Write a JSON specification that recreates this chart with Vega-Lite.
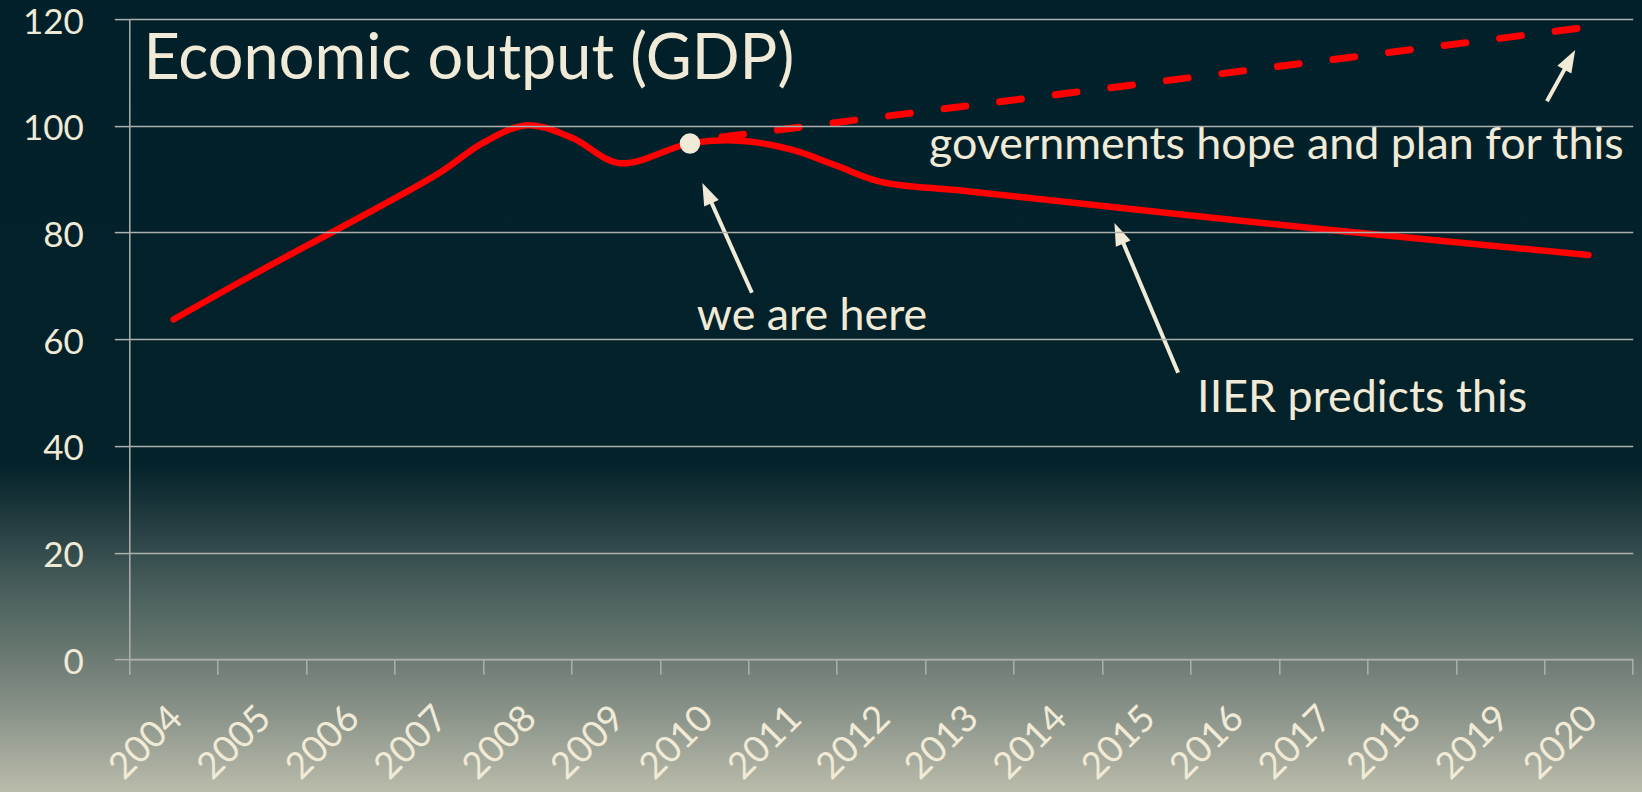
{
  "$schema": "https://vega.github.io/schema/vega-lite/v6.json",
  "width": 1503.4,
  "height": 640.2,
  "autosize": {"type": "none"},
  "padding": {"left": 129.3, "top": 19.1, "right": 9.3, "bottom": 132.7},
  "background": "#02202a",
  "config": {"view": {"stroke": null}, "font": "Lato"},
  "datasets": {
    "gdp": [
      {"year": 2004.0, "gdp": 63.7},
      {"year": 2005.0, "gdp": 73.0},
      {"year": 2006.0, "gdp": 81.9},
      {"year": 2007.0, "gdp": 91.1},
      {"year": 2007.5, "gdp": 96.8},
      {"year": 2008.0, "gdp": 100.1},
      {"year": 2008.5, "gdp": 97.8},
      {"year": 2009.05, "gdp": 93.0},
      {"year": 2009.84, "gdp": 96.7},
      {"year": 2010.4, "gdp": 97.2},
      {"year": 2011.0, "gdp": 95.5},
      {"year": 2011.5, "gdp": 92.5},
      {"year": 2012.0, "gdp": 89.5},
      {"year": 2013.0, "gdp": 87.7},
      {"year": 2017.0, "gdp": 80.6},
      {"year": 2020.0, "gdp": 75.8}
    ],
    "hope": [
      {"year": 2010.2, "gdp": 97.9},
      {"year": 2020.0, "gdp": 118.5}
    ],
    "now": [
      {"year": 2009.84, "gdp": 96.7}
    ],
    "notes": [
      {"text": "we are here", "x": 2011.22, "y": 61.7},
      {"text": "IIER predicts this", "x": 2017.44, "y": 46.4},
      {"text": "governments hope and plan for this", "x": 2016.47, "y": 93.7}
    ],
    "arrows": [
      {"id": "here", "x": 2010.54, "y": 68.7, "bx": 2010.075, "by": 85.9, "tx": 2009.98, "ty": 89.3},
      {"id": "iier", "x": 2015.36, "y": 53.7, "bx": 2014.73, "by": 78.4, "tx": 2014.64, "ty": 81.8},
      {"id": "gov", "x": 2019.53, "y": 104.6, "bx": 2019.74, "by": 110.9, "tx": 2019.85, "ty": 114.2}
    ]
  },
  "layer": [
    {
      "data": {"values": [{}]},
      "mark": {
        "type": "rect",
        "clip": false,
        "fill": {
          "gradient": "linear",
          "x1": 0, "y1": 0, "x2": 0, "y2": 1,
          "stops": [
            {"offset": 0, "color": "#02202a"},
            {"offset": 0.585, "color": "#03222a"},
            {"offset": 0.647, "color": "#1e383c"},
            {"offset": 0.731, "color": "#445a59"},
            {"offset": 0.815, "color": "#66766f"},
            {"offset": 0.897, "color": "#8a9389"},
            {"offset": 1, "color": "#bcbdac"}
          ]
        }
      },
      "encoding": {
        "x": {"datum": 2002.0, "type": "quantitative", "title": null, "scale": {"domain": [2003.5, 2020.5], "nice": false, "zero": false}},
        "x2": {"datum": 2020.8},
        "y": {"datum": -25.5, "type": "quantitative", "title": null, "scale": {"domain": [0, 120], "nice": false, "zero": false}},
        "y2": {"datum": 124.5}
      }
    },
    {
      "data": {"name": "gdp"},
      "mark": {"type": "line", "color": "#ff0000", "strokeWidth": 6.5, "interpolate": "catmull-rom", "strokeCap": "round", "strokeJoin": "round"},
      "encoding": {
        "x": {
          "field": "year", "type": "quantitative", "title": null,
          "scale": {"domain": [2003.5, 2020.5], "nice": false, "zero": false},
          "axis": {
            "title": null,
            "values": [2003.5, 2004.5, 2005.5, 2006.5, 2007.5, 2008.5, 2009.5, 2010.5, 2011.5, 2012.5, 2013.5, 2014.5, 2015.5, 2016.5, 2017.5, 2018.5, 2019.5, 2020.5],
            "labelExpr": "datum.value < 2020 ? '' + (datum.value + 0.5) : ''",
            "grid": false,
            "labelAngle": -45,
            "labelAlign": "right",
            "labelBaseline": "middle",
            "labelOffset": 47,
            "labelPadding": 38,
            "labelFont": "Lato",
            "labelFontSize": 37,
            "labelColor": "#f0ead6",
            "labelOverlap": false,
            "labelFlush": false,
            "labelBound": false,
            "tickSize": 15,
            "tickColor": "#aeb0ad",
            "tickWidth": 1.5,
            "domainColor": "#aeb0ad",
            "domainWidth": 1.5,
            "zindex": 1
          }
        },
        "y": {
          "field": "gdp", "type": "quantitative", "title": null,
          "scale": {"domain": [0, 120], "nice": false, "zero": false},
          "axis": {
            "title": null,
            "values": [0, 20, 40, 60, 80, 100, 120],
            "grid": true,
            "gridColor": "#aeb0ad",
            "gridWidth": 1.5,
            "labelFont": "Lato",
            "labelFontSize": 35,
            "labelColor": "#f0ead6",
            "labelPadding": 31,
            "labelOffset": 3,
            "tickSize": 15,
            "tickColor": "#aeb0ad",
            "tickWidth": 1.5,
            "domainColor": "#aeb0ad",
            "domainWidth": 1.5,
            "zindex": 1
          }
        }
      }
    },
    {
      "data": {"name": "hope"},
      "mark": {"type": "line", "color": "#ff0000", "strokeWidth": 7, "strokeDash": [22, 34], "strokeCap": "round"},
      "encoding": {
        "x": {"field": "year", "type": "quantitative", "title": null, "scale": {"domain": [2003.5, 2020.5], "nice": false, "zero": false}},
        "y": {"field": "gdp", "type": "quantitative", "title": null, "scale": {"domain": [0, 120], "nice": false, "zero": false}}
      }
    },
    {
      "data": {"name": "now"},
      "mark": {"type": "point", "filled": true, "color": "#f0ead6", "size": 420, "opacity": 1},
      "encoding": {
        "x": {"field": "year", "type": "quantitative", "title": null, "scale": {"domain": [2003.5, 2020.5], "nice": false, "zero": false}},
        "y": {"field": "gdp", "type": "quantitative", "title": null, "scale": {"domain": [0, 120], "nice": false, "zero": false}}
      }
    },
    {
      "data": {"name": "arrows"},
      "mark": {"type": "rule", "color": "#f0ead6", "strokeWidth": 4},
      "encoding": {
        "x": {"field": "x", "type": "quantitative", "title": null, "scale": {"domain": [2003.5, 2020.5], "nice": false, "zero": false}},
        "y": {"field": "y", "type": "quantitative", "title": null, "scale": {"domain": [0, 120], "nice": false, "zero": false}},
        "x2": {"field": "bx"},
        "y2": {"field": "by"}
      }
    },
    {
      "data": {"name": "arrows"},
      "transform": [{"filter": "datum.id == 'here'"}],
      "mark": {"type": "point", "shape": "M0,0L-0.5,1.4L0.5,1.4Z", "filled": true, "color": "#f0ead6", "size": 1024, "opacity": 1, "angle": 336},
      "encoding": {
        "x": {"field": "tx", "type": "quantitative", "title": null, "scale": {"domain": [2003.5, 2020.5], "nice": false, "zero": false}},
        "y": {"field": "ty", "type": "quantitative", "title": null, "scale": {"domain": [0, 120], "nice": false, "zero": false}}
      }
    },
    {
      "data": {"name": "arrows"},
      "transform": [{"filter": "datum.id == 'iier'"}],
      "mark": {"type": "point", "shape": "M0,0L-0.5,1.4L0.5,1.4Z", "filled": true, "color": "#f0ead6", "size": 1024, "opacity": 1, "angle": 337},
      "encoding": {
        "x": {"field": "tx", "type": "quantitative", "title": null, "scale": {"domain": [2003.5, 2020.5], "nice": false, "zero": false}},
        "y": {"field": "ty", "type": "quantitative", "title": null, "scale": {"domain": [0, 120], "nice": false, "zero": false}}
      }
    },
    {
      "data": {"name": "arrows"},
      "transform": [{"filter": "datum.id == 'gov'"}],
      "mark": {"type": "point", "shape": "M0,0L-0.5,1.4L0.5,1.4Z", "filled": true, "color": "#f0ead6", "size": 1024, "opacity": 1, "angle": 29},
      "encoding": {
        "x": {"field": "tx", "type": "quantitative", "title": null, "scale": {"domain": [2003.5, 2020.5], "nice": false, "zero": false}},
        "y": {"field": "ty", "type": "quantitative", "title": null, "scale": {"domain": [0, 120], "nice": false, "zero": false}}
      }
    },
    {
      "data": {"name": "notes"},
      "mark": {"type": "text", "font": "Lato", "fontSize": 44.8, "color": "#f0ead6", "align": "center", "baseline": "alphabetic"},
      "encoding": {
        "x": {"field": "x", "type": "quantitative", "title": null, "scale": {"domain": [2003.5, 2020.5], "nice": false, "zero": false}},
        "y": {"field": "y", "type": "quantitative", "title": null, "scale": {"domain": [0, 120], "nice": false, "zero": false}},
        "text": {"field": "text"}
      }
    },
    {
      "data": {"values": [{"text": "Economic output (GDP)", "x": 2003.66, "y": 108.7}]},
      "mark": {"type": "text", "font": "Lato", "fontSize": 63, "color": "#f0ead6", "align": "left", "baseline": "alphabetic"},
      "encoding": {
        "x": {"field": "x", "type": "quantitative", "title": null, "scale": {"domain": [2003.5, 2020.5], "nice": false, "zero": false}},
        "y": {"field": "y", "type": "quantitative", "title": null, "scale": {"domain": [0, 120], "nice": false, "zero": false}},
        "text": {"field": "text"}
      }
    }
  ]
}
